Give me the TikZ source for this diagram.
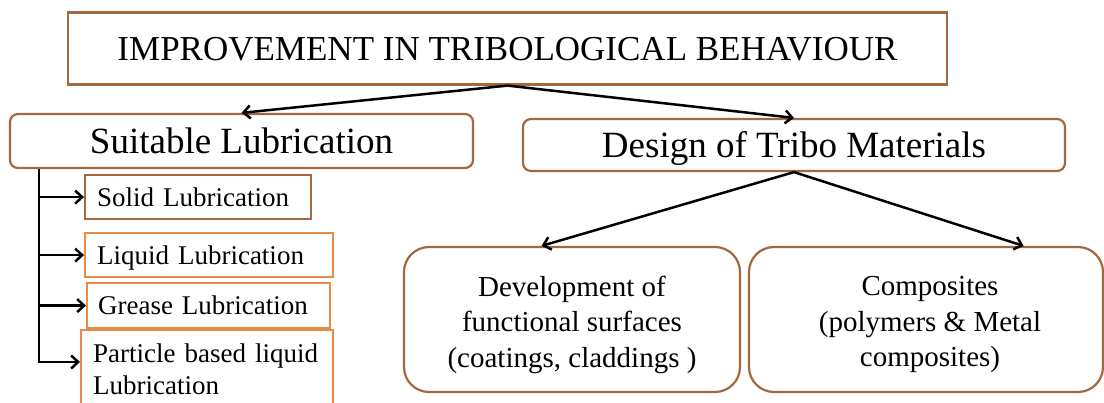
\documentclass[tikz,border=0pt]{standalone}
\usepackage{fontspec}
\setmainfont{Liberation Serif}
\usetikzlibrary{arrows.meta,calc}
\definecolor{boxbrown}{RGB}{163,104,62}
\definecolor{boxorange}{RGB}{232,140,72}
\newcommand{\wsp}{\hspace{0.33em}}
\begin{document}
\begin{tikzpicture}[x=1pt,y=-1pt,
  mainbox/.style={draw=boxbrown,line width=2.2pt,fill=white,inner sep=0pt,text depth=0pt},
  bigbox/.style={draw=boxbrown,line width=2.2pt,fill=white,inner sep=0pt,rounded corners=25pt},
  bigtext/.style={inner sep=0pt,align=center,font=\fontsize{29pt}{35.5pt}\selectfont},
  subbox/.style={line width=2.2pt,fill=white,inner ysep=0pt,inner xsep=12pt,anchor=north west,align=left,
    font=\fontsize{27pt}{32pt}\selectfont},
  conn/.style={line width=2.5pt,black,-{Straight Barb[length=7pt,width=13pt]}}
]
\path[use as bounding box] (0,0) rectangle (1104,402);
\clip (0,0) rectangle (1104,402);

% main boxes
\node[mainbox,text height=24pt,minimum width=879pt,minimum height=72pt,font=\fontsize{35pt}{40pt}\selectfont]
  (top) at (507.5,48.5) {IMPROVEMENT IN TRIBOLOGICAL BEHAVIOUR};
\node[mainbox,text height=25pt,rounded corners=8pt,minimum width=463pt,minimum height=54pt,font=\fontsize{37pt}{42pt}\selectfont]
  (suit) at (241.5,141) {Suitable Lubrication};
\node[mainbox,text height=25pt,rounded corners=8pt,minimum width=542pt,minimum height=52pt,font=\fontsize{37pt}{42pt}\selectfont]
  (design) at (794,145) {Design of Tribo Materials};

% lower right boxes
\node[bigbox,minimum width=336pt,minimum height=145pt] (dev) at (572,319.5) {};
\node[bigtext] (devt) at ($(dev.center)+(0,5)$)
  {Development of\\functional surfaces\\(coatings, claddings )};
\node[bigbox,minimum width=354pt,minimum height=145pt] (comp) at (926,319.5) {};
\node[bigtext] (compt) at ($(comp.center)+(4,5)$)
  {Composites\\(polymers \& Metal\\composites)};

% lubrication sub boxes
\node[subbox,draw=boxbrown,text width=202pt,minimum height=44pt,text depth=0pt] (solid) at (84,174)
  {Solid\wsp Lubrication};
\node[subbox,draw=boxorange,text width=224pt,minimum height=44pt,text depth=0pt] (liquid) at (84,232)
  {Liquid\wsp Lubrication};
\node[subbox,draw=boxorange,inner xsep=11pt,text width=221pt,minimum height=45pt,text depth=0pt] (grease) at (86,282)
  {Grease\wsp Lubrication};
\node[subbox,draw=boxorange,text width=228pt,minimum height=78pt] (part) at (80,329)
  {Particle based liquid\\Lubrication};

% connectors
\draw[conn] (top.south) -- (suit.north);
\draw[conn] (top.south) -- (design.north);
\draw[conn] (design.south) -- ($(dev.north west)!0.41!(dev.north east)$);
\draw[conn] (design.south) -- ($(comp.north west)!0.774!(comp.north east)$);

\coordinate (b0) at ($(suit.south west)+(30,0)$);
\coordinate (pa) at ($(part.north west)+(0,33)$);
\draw[conn] (b0) |- (pa);
\draw[conn] (b0 |- solid.west) -- (solid.west);
\draw[conn] (b0 |- liquid.west) -- (liquid.west);
\draw[conn] (b0 |- grease.west) -- (grease.west);
\end{tikzpicture}
\end{document}
